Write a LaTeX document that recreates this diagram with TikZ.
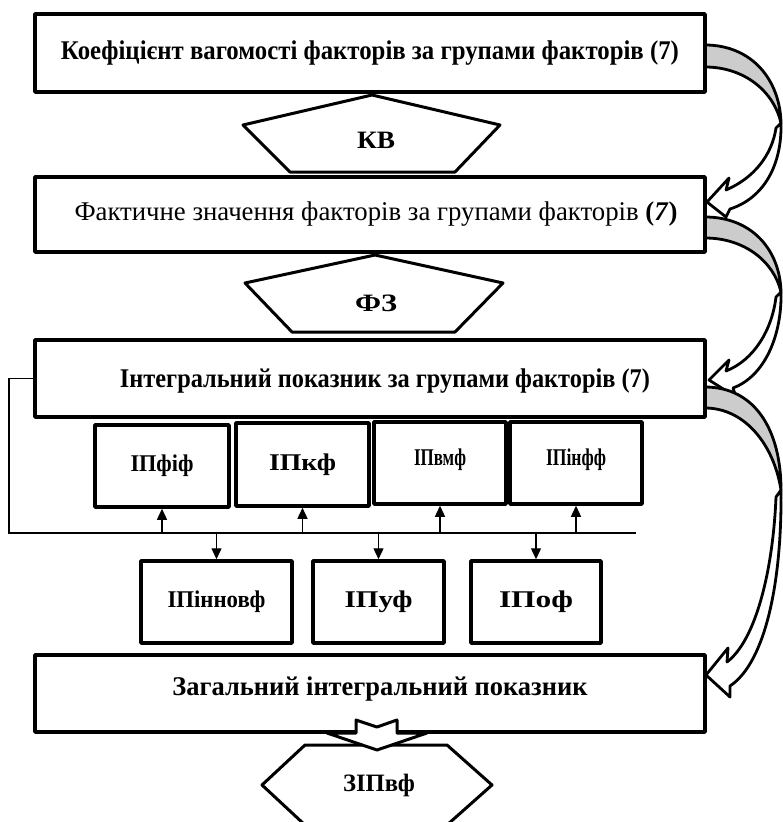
\documentclass[tikz,border=0pt]{standalone}
\usepackage{fontspec}
\usepackage{graphicx}
\setmainfont{Liberation Serif}
\usetikzlibrary{arrows.meta}
\newcommand\fitw[2]{\resizebox{#1}{\height}{#2}}
\newcommand\shifty[2]{\raisebox{#1}[\height][\depth]{#2}}
\begin{document}
\begin{tikzpicture}[x=1pt,y=-1pt,
  bigbox/.style={draw,line width=3.5pt,line join=round,minimum width=670pt,inner sep=0pt,font=\fontsize{27}{29}\selectfont\bfseries},
  smallbox/.style={draw,line width=3.5pt,line join=round,inner sep=0pt,minimum height=82pt,font=\fontsize{24}{26}\selectfont\bfseries},
  shapeline/.style={draw,line width=3pt,line join=round},
  shapelabel/.style={font=\fontsize{25}{27}\selectfont\bfseries,inner sep=0pt},
  conn/.style={line width=1.3pt},
  conarrow/.style={conn,-{Triangle[length=11pt,width=10pt]}},
  ribbon/.style={line width=2.8pt,line join=round},
  ]
\useasboundingbox[fill=white] (0,0) rectangle (782,822);

% curved ribbons (behind boxes)
\draw[ribbon,fill=gray!40] (705,45) .. controls (752,45) and (780,80) .. (781,123) .. controls (774,92) and (745,67) .. (705,67) -- cycle;
\draw[ribbon,fill=white] (781,123) .. controls (782,165) and (764,198) .. (730,209) -- (726,217) -- (707,202) -- (729,178) -- (726,190) .. controls (754,178) and (772,155) .. (776,128) -- cycle;

\draw[ribbon,fill=gray!40] (705,217) .. controls (752,217) and (780,250) .. (781,292) .. controls (774,262) and (745,238) .. (705,238) -- cycle;
\draw[ribbon,fill=white] (781,292) .. controls (782,335) and (765,376) .. (733,388) -- (736,397) -- (709,380) -- (729,360) -- (726,371) .. controls (754,360) and (772,330) .. (776,297) -- cycle;

\draw[ribbon,fill=gray!40] (705,387) .. controls (755,387) and (781,430) .. (781,490) .. controls (774,445) and (745,408) .. (705,408) -- cycle;
\draw[ribbon,fill=white] (781,490) .. controls (782,580) and (766,662) .. (730,686) -- (730,697) -- (706,675) -- (728,648) -- (727,662) .. controls (756,640) and (773,570) .. (776,497) -- cycle;

% main boxes
\node[bigbox,minimum height=78pt,fill=white] (b1) at (370,53) {\fitw{618pt}{Коефіцієнт вагомості факторів за групами факторів (7)}};
\node[bigbox,minimum height=75pt,fill=white] (b2) at (370,214.5) {\hspace*{12pt}\fitw{603pt}{\mdseries Фактичне значення факторів за групами факторів \textbf{(\textit{7})}}};
\node[bigbox,minimum height=77pt,fill=white] (b3) at (370,378.5) {\hspace*{30pt}\shifty{-3pt}{\fitw{530pt}{Інтегральний показник за групами факторів (7)}}};
\node[bigbox,minimum height=77pt,fill=white] (b4) at (370,693.5) {\hspace*{20pt}\shifty{5pt}{\fitw{415pt}{Загальний інтегральний показник}}};

% pentagons and hexagon
\draw[shapeline] (372,95) -- (500,125) -- (455,172) -- (290,172) -- (243,125) -- cycle;
\node[shapelabel] (kv) at (376,140) {\fitw{38pt}{КВ}};
\draw[shapeline] (375,255) -- (503,283) -- (455,332) -- (292,332) -- (245,283) -- cycle;
\node[shapelabel] (fz) at (376,303) {\fitw{42pt}{ФЗ}};
\draw[shapeline] (305,745) -- (447,745) -- (492,785) -- (447,825) -- (305,825) -- (262,785) -- cycle;
\node[shapelabel] (zip) at (379,785) {\fitw{72pt}{ЗІПвф}};

% block arrow
\draw[shapeline,fill=white] (356,720) -- (377,727) -- (397,720) -- (397,733) -- (427,733) -- (377,750) -- (327,733) -- (356,733) -- cycle;

% small boxes row 1
\node[smallbox,minimum width=134pt] (s1) at (162,466) {\fitw{63pt}{ІПфіф}};
\node[smallbox,minimum width=133pt,minimum height=83pt] (s2) at (302.5,464.5) {\fitw{67pt}{ІПкф}};
\node[smallbox,minimum width=132pt] (s3) at (440,463) {\shifty{3pt}{\fitw{52pt}{ІПвмф}}};
\node[smallbox,minimum width=132pt] (s4) at (576,463) {\shifty{3pt}{\fitw{60pt}{ІПінфф}}};
% row 2
\node[smallbox,minimum width=151pt] (t1) at (216.5,602) {\fitw{98pt}{ІПінновф}};
\node[smallbox,minimum width=131pt] (t2) at (378.5,602) {\fitw{68pt}{ІПуф}};
\node[smallbox,minimum width=130pt] (t3) at (536,602) {\fitw{74pt}{ІПоф}};

% connectors
\coordinate (lc) at (9,378.5);
\coordinate (bl) at (9,533);
\coordinate (br) at (636,533);
\draw[conn] (b3.west) -- (lc) -- (bl) -- (br);
\foreach \n in {s1,s2,s3,s4}{\draw[conarrow] (\n.south |- bl) -- (\n.south);}
\foreach \n in {t1,t2,t3}{\draw[conarrow] (\n.north |- bl) -- (\n.north);}
\end{tikzpicture}
\end{document}
